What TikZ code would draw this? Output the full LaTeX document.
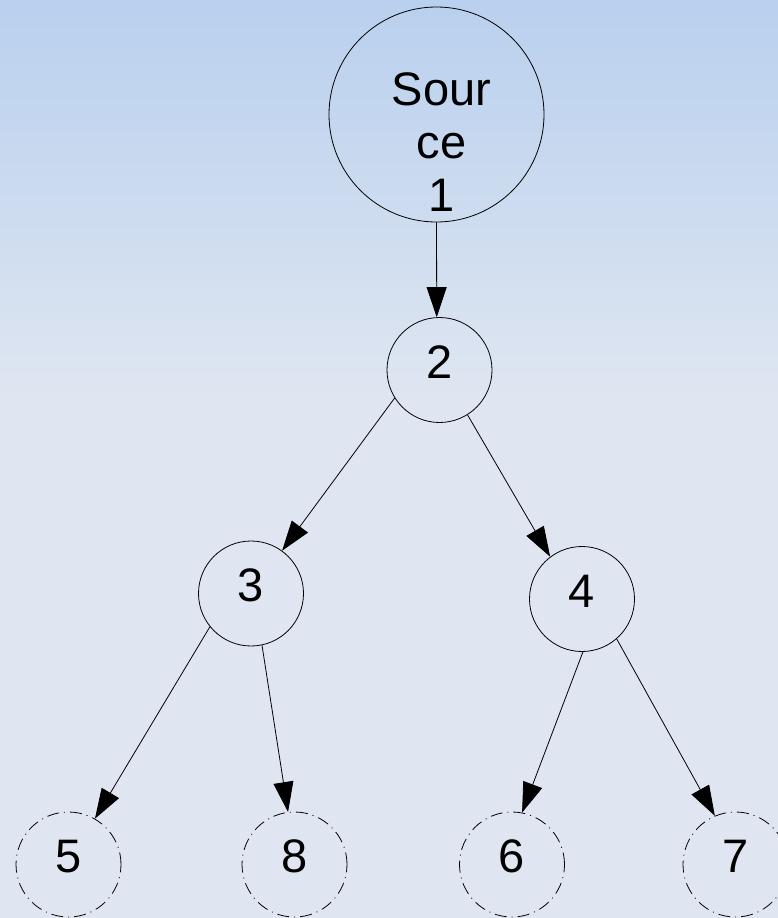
\documentclass[tikz,border=0pt]{standalone}
\usepackage{fontspec}
\setmainfont{Liberation Sans}
\usetikzlibrary{arrows.meta}

\definecolor{skytop}{HTML}{B9D0EE}
\definecolor{skylow}{HTML}{DFE6F1}

\begin{document}
\begin{tikzpicture}[x=1pt,y=-1pt,
    vert/.style={draw, circle, line width=0.8pt, minimum size=105pt, inner sep=0pt,
                 font=\fontsize{47}{54}\selectfont, text depth=16pt},
    leafvert/.style={vert, dash pattern=on 12pt off 5pt on 1pt off 5pt},
    edge/.style={line width=0.8pt, -{Triangle[length=30pt,width=20pt]}}]
    \clip (0,0) rectangle (778,918);
    \fill[skylow] (0,0) rectangle (778,918);
    \shade[top color=skytop, bottom color=skylow] (0,0) rectangle (778,400);

    \node[draw, circle, line width=0.8pt, minimum size=215pt, inner sep=0pt,
          label={[font=\fontsize{47}{53}\selectfont, align=center, xshift=5pt, yshift=-28pt]center:Sour\\ce\\1}]
          (src) at (436.5,114.5) {};
    \node[vert] (n2) at (439.5,370) {2};
    \node[vert] (n3) at (251,593.5) {3};
    \node[vert] (n4) at (582,599) {4};

    \node[leafvert] (n5) at (68.5,864.5) {5};
    \node[leafvert] (n8) at (294.5,864.5) {8};
    \node[leafvert] (n6) at (512,864.5) {6};
    \node[leafvert] (n7) at (735.5,864.5) {7};

    \draw[edge] (src.-90) -- (n2.93);
    \draw[edge] (n2.212) -- (n3.54);
    \draw[edge] (n2.-58) -- (n4.127);
    \draw[edge] (n3.219) -- (n5.60);
    \draw[edge] (n3.-78) -- (n8.97);
    \draw[edge] (n4.-89) -- (n6.79);
    \draw[edge] (n4.-49) -- (n7.113);
\end{tikzpicture}
\end{document}
